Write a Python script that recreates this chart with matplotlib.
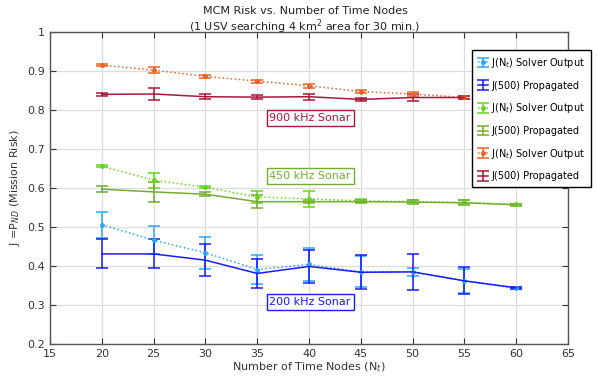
import numpy as np
import matplotlib
matplotlib.use("Agg")
import matplotlib.pyplot as plt

# time nodes
nt = [20, 25, 30, 35, 40, 45, 50, 55, 60]
nt900 = [20, 25, 30, 35, 40, 45, 50, 55]

# 200 kHz
j200_solver = [0.506, 0.466, 0.434, 0.391, 0.404, 0.385, 0.385, 0.362, 0.343]
e200_solver = [0.033, 0.036, 0.041, 0.038, 0.043, 0.040, 0.010, 0.030, 0.002]
j200_prop = [0.431, 0.431, 0.415, 0.381, 0.399, 0.384, 0.385, 0.362, 0.344]
e200_prop = [0.037, 0.037, 0.041, 0.037, 0.043, 0.044, 0.047, 0.035, 0.002]

# 450 kHz
j450_solver = [0.656, 0.620, 0.602, 0.577, 0.572, 0.567, 0.565, 0.563, 0.558]
e450_solver = [0.003, 0.019, 0.003, 0.016, 0.020, 0.004, 0.004, 0.005, 0.002]
j450_prop = [0.597, 0.590, 0.584, 0.565, 0.565, 0.565, 0.564, 0.562, 0.557]
e450_prop = [0.008, 0.025, 0.005, 0.016, 0.004, 0.004, 0.005, 0.006, 0.002]

# 900 kHz
j900_solver = [0.915, 0.902, 0.886, 0.874, 0.862, 0.847, 0.841, 0.832]
e900_solver = [0.003, 0.008, 0.004, 0.004, 0.005, 0.003, 0.005, 0.004]
j900_prop = [0.840, 0.841, 0.834, 0.833, 0.834, 0.827, 0.832, 0.832]
e900_prop = [0.004, 0.016, 0.007, 0.005, 0.008, 0.003, 0.008, 0.005]

c_lblue = '#2aa8f5'
c_blue = '#1a1af5'
c_lgreen = '#66d41e'
c_green = '#74ac30'
c_orange = '#e8642a'
c_red = '#a8183a'

plt.rcParams['font.size'] = 8
fig = plt.figure(figsize=(5.98, 3.76), dpi=100)
ax = fig.add_axes([0.0836, 0.085, 0.8664, 0.83])

def solver(x, y, e, c):
    return ax.errorbar(x, y, yerr=e, color=c, ls=':', lw=1.1, marker='o', ms=2.5,
                       capsize=4, elinewidth=1.1, capthick=1.1,
                       label=r'J(N$_t$) Solver Output')

def prop(x, y, e, c):
    return ax.errorbar(x, y, yerr=e, color=c, ls='-', lw=1.1, marker='none',
                       capsize=4, elinewidth=1.1, capthick=1.1,
                       label='J(500) Propagated')

solver(nt, j200_solver, e200_solver, c_lblue)
prop(nt, j200_prop, e200_prop, c_blue)
solver(nt, j450_solver, e450_solver, c_lgreen)
prop(nt, j450_prop, e450_prop, c_green)
solver(nt900, j900_solver, e900_solver, c_orange)
prop(nt900, j900_prop, e900_prop, c_red)

ax.set_xlim(15, 65)
ax.set_ylim(0.2, 1.0)
ax.set_xticks(np.arange(15, 66, 5))
ax.set_yticks(np.arange(0.2, 1.01, 0.1))
ax.set_yticklabels(['0.2', '0.3', '0.4', '0.5', '0.6', '0.7', '0.8', '0.9', '1'])
ax.grid(True, color='#dddddd', lw=0.9)
ax.set_axisbelow(True)
ax.tick_params(direction='in', top=True, right=True, length=4, colors='#333333')
for s in ax.spines.values():
    s.set_color('#555555')
    s.set_linewidth(1.0)

ax.set_xlabel(r'Number of Time Nodes (N$_t$)', color='#333333', labelpad=1)
ax.set_ylabel(r'J =P$_{ND}$ (Mission Risk)', color='#333333', labelpad=4)
fig.text(0.51, 0.972, 'MCM Risk vs. Number of Time Nodes', color='#222222',
         ha='center', va='center', fontsize=8)
fig.text(0.51, 0.929, '(1 USV searching 4 km$^2$ area for 30 min.)', color='#222222',
         ha='center', va='center', fontsize=8)

ax.text(40.1, 0.779, '900 kHz Sonar', color=c_red, ha='center', va='center',
        bbox=dict(boxstyle='square,pad=0.25', fc='white', ec=c_red, lw=1))
ax.text(40.1, 0.631, '450 kHz Sonar', color=c_green, ha='center', va='center',
        bbox=dict(boxstyle='square,pad=0.25', fc='white', ec=c_green, lw=1))
ax.text(40.1, 0.308, '200 kHz Sonar', color=c_blue, ha='center', va='center',
        bbox=dict(boxstyle='square,pad=0.25', fc='white', ec=c_blue, lw=1))

leg = ax.legend(loc='upper right', bbox_to_anchor=(0.988, 0.867),
                bbox_transform=fig.transFigure, fontsize=7, fancybox=False,
                framealpha=1, edgecolor='black', handlelength=1.1,
                handletextpad=0.3, labelspacing=1.1, borderpad=0.6,
                borderaxespad=0)
leg.get_frame().set_linewidth(1.0)

fig.savefig('out.png', dpi=100)
